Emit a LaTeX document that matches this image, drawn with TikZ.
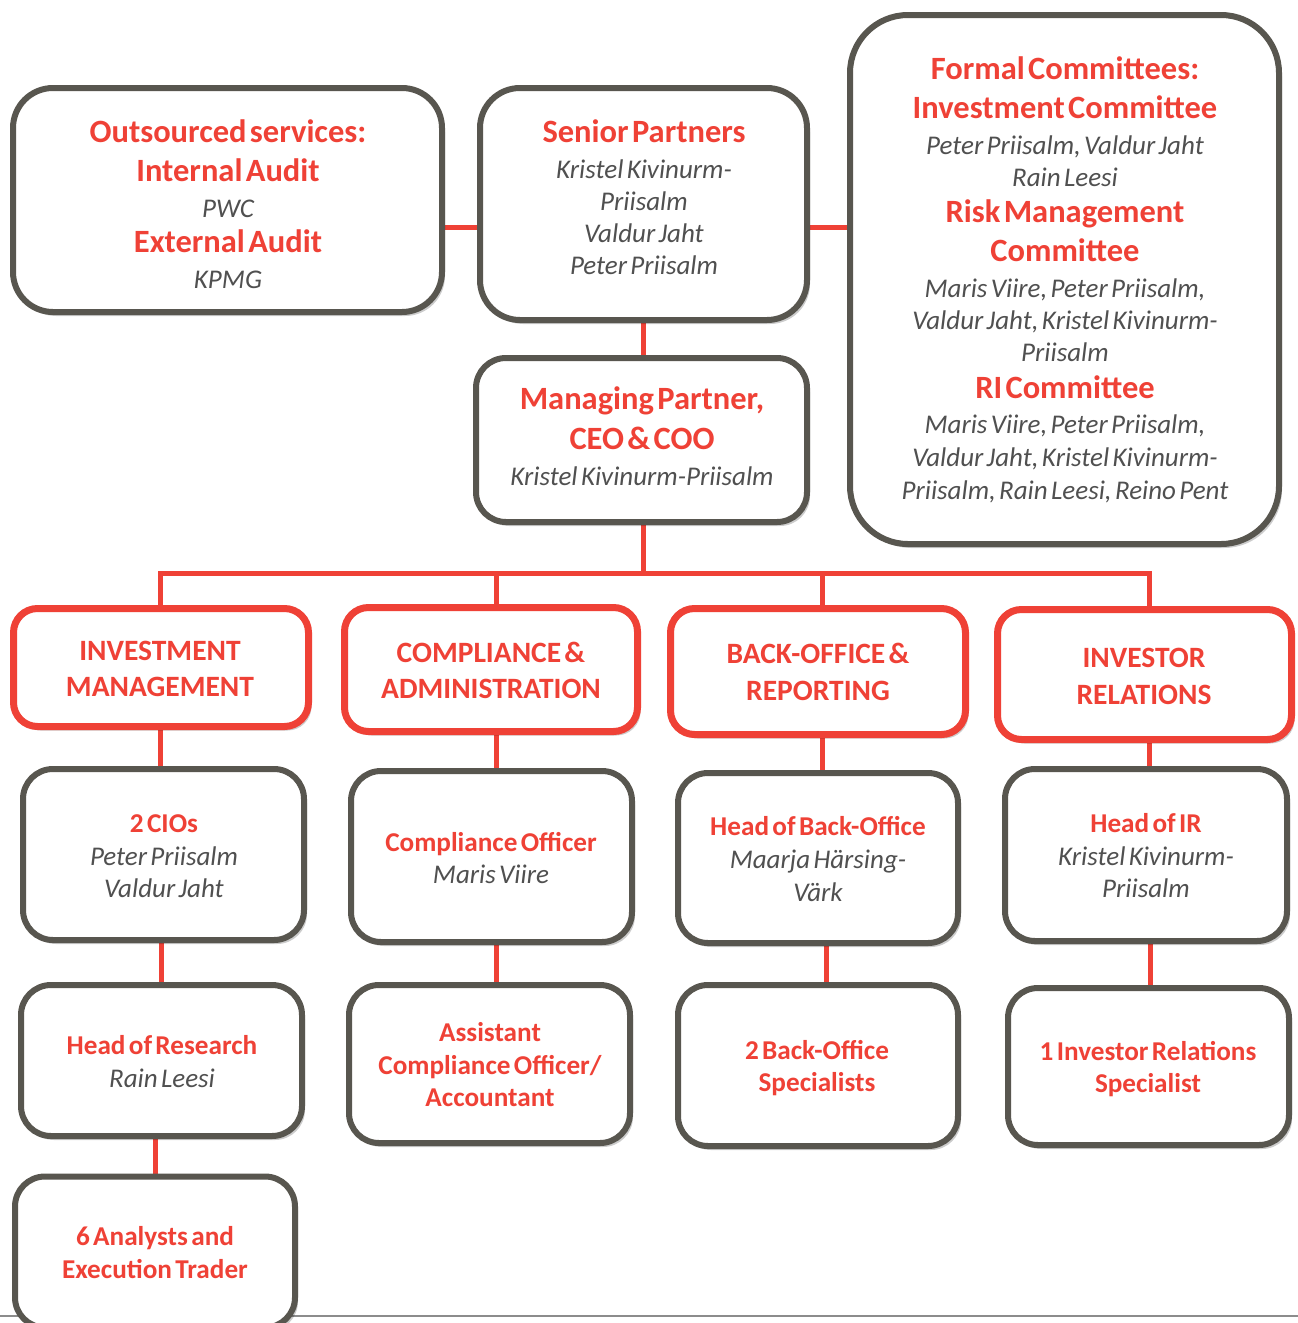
\documentclass[tikz,border=0pt]{standalone}
\usepackage{fontspec}
\setmainfont{Carlito}
\usetikzlibrary{shadows,backgrounds}
\definecolor{cred}{HTML}{EF4136}
\definecolor{cbord}{HTML}{58564F}
\definecolor{ctext}{HTML}{505050}
\newcommand\HdL[3]{{\fontsize{#1}{#2}\selectfont\bfseries\color{cred}#3\par}}
\newcommand\NmL[3]{{\fontsize{#1}{#2}\selectfont\itshape\color{ctext}#3\par}}
\tikzset{
  shadowed/.style={drop shadow={shadow xshift=3pt,shadow yshift=-4pt,opacity=0.2,fill=black}},
  box/.style={draw=cbord, line width=6pt, fill=white, rounded corners=#1, inner sep=0pt, shadowed},
  box/.default=30pt,
  dept/.style={draw=cred, line width=7pt, fill=white, rounded corners=24pt, inner sep=0pt, shadowed},
  txt/.style={anchor=base, align=center, text width=#1, inner sep=0pt, execute at begin node={\setlength\parindent{0pt}}},
  conn/.style={draw=cred, line width=5pt, line join=miter},
}
\begin{document}
\begin{tikzpicture}[x=1pt,y=-1pt]
\useasboundingbox (0,0) rectangle (1298,1323);
% top row
\node[box=40pt, minimum width=429pt, minimum height=224pt] (os) at (227.5,200) {};
\node[txt=420pt] (ost) at (228,142) {\HdL{32.5}{39}{Outsourced services:}\HdL{32.5}{39}{Internal Audit}\NmL{27}{36}{PWC}\HdL{32.5}{35}{External Audit}\NmL{27}{36}{KPMG}};
\node[box=40pt, minimum width=327pt, minimum height=232pt] (sp) at (643.5,204) {};
\node[txt=320pt] (spt) at (644,142) {\HdL{32.5}{39}{Senior Partners}\NmL{27}{36}{Kristel Kivinurm-}\NmL{27}{32}{Priisalm}\NmL{27}{32}{Valdur Jaht}\NmL{27}{32}{Peter Priisalm}};
\node[box=58pt, minimum width=429pt, minimum height=529pt] (fc) at (1064.5,279.5) {};
\node[txt=425pt] (fct) at (1065,79) {\HdL{32.5}{39}{Formal Committees:}\HdL{32.5}{39}{Investment Committee}\NmL{27}{36}{Peter Priisalm, Valdur Jaht}\NmL{27}{32}{Rain Leesi}\HdL{32.5}{36}{Risk Management}\HdL{32.5}{39}{Committee}\NmL{27}{36}{Maris Viire, Peter Priisalm,}\NmL{27}{32}{Valdur Jaht, Kristel Kivinurm-}\NmL{27}{32}{Priisalm}\HdL{32.5}{37}{RI Committee}\NmL{27}{35}{Maris Viire, Peter Priisalm,}\NmL{27}{33}{Valdur Jaht, Kristel Kivinurm-}\NmL{27}{33}{Priisalm, Rain Leesi, Reino Pent}};
\node[box=30pt, minimum width=331pt, minimum height=164pt] (mp) at (641.5,440) {};
\node[txt=325pt] (mpt) at (642,409) {\HdL{32.5}{40}{Managing Partner,}\HdL{32.5}{40}{CEO \& COO}\NmL{27}{36}{Kristel Kivinurm-Priisalm}};
% departments
\node[dept, minimum width=295pt, minimum height=118pt] (im) at (161,667.5) {};
\node[txt=285pt] (imt) at (160,660.5) {\HdL{29.5}{36}{INVESTMENT}\HdL{29.5}{36}{MANAGEMENT}};
\node[dept, minimum width=293pt, minimum height=124pt] (ca) at (491,669.5) {};
\node[txt=285pt] (cat) at (491,662.5) {\HdL{29.5}{36}{COMPLIANCE \&}\HdL{29.5}{36}{ADMINISTRATION}};
\node[dept, minimum width=295pt, minimum height=126pt] (bo) at (818,671.5) {};
\node[txt=285pt] (bot) at (818,663.5) {\HdL{29.5}{37}{BACK-OFFICE \&}\HdL{29.5}{37}{REPORTING}};
\node[dept, minimum width=294pt, minimum height=130pt] (ir) at (1144.5,674.5) {};
\node[txt=285pt] (irt) at (1144,667.5) {\HdL{29.5}{37}{INVESTOR}\HdL{29.5}{37}{RELATIONS}};
% level 2
\node[box, minimum width=281pt, minimum height=171pt] (cio) at (163.5,854.5) {};
\node[txt=275pt] (ciot) at (164,832.5) {\HdL{27.2}{33}{2 CIOs}\NmL{27}{33}{Peter Priisalm}\NmL{27}{32}{Valdur Jaht}};
\node[box, minimum width=281pt, minimum height=171pt] (co) at (491.5,856.5) {};
\node[txt=275pt] (cot) at (491,851.5) {\HdL{27.2}{32}{Compliance Officer}\NmL{27}{32}{Maris Viire}};
\node[box, minimum width=280pt, minimum height=170pt] (hbo) at (818,858) {};
\node[txt=275pt] (hbot) at (818,835.5) {\HdL{27.2}{33}{Head of Back-Office}\NmL{27}{33}{Maarja Härsing-}\NmL{27}{33}{Värk}};
\node[box, minimum width=282pt, minimum height=172pt] (hir) at (1146,855) {};
\node[txt=275pt] (hirt) at (1146,832.5) {\HdL{27.2}{33}{Head of IR}\NmL{27}{33}{Kristel Kivinurm-}\NmL{27}{32}{Priisalm}};
% level 3
\node[box, minimum width=281pt, minimum height=151pt] (res) at (161.5,1060.5) {};
\node[txt=275pt] (rest) at (162,1054.5) {\HdL{27.2}{33}{Head of Research}\NmL{27}{33}{Rain Leesi}};
\node[box, minimum width=281pt, minimum height=158pt] (acc) at (489.5,1064) {};
\node[txt=275pt] (acct) at (490,1041.5) {\HdL{27.2}{33}{Assistant}\HdL{27.2}{33}{Compliance Officer/}\HdL{27.2}{32}{Accountant}};
\node[box, minimum width=280pt, minimum height=161pt] (bos) at (818,1065.5) {};
\node[txt=275pt] (bost) at (817,1059.5) {\HdL{27.2}{32}{2 Back-Office}\HdL{27.2}{32}{Specialists}};
\node[box, minimum width=281pt, minimum height=157pt] (irs) at (1148.5,1066.5) {};
\node[txt=275pt] (irst) at (1148,1060.5) {\HdL{27.2}{32}{1 Investor Relations}\HdL{27.2}{32}{Specialist}};
% level 4
\node[box, minimum width=280pt, minimum height=151pt] (ana) at (155,1252) {};
\node[txt=275pt] (anat) at (155,1245.5) {\HdL{27.2}{33}{6 Analysts and}\HdL{27.2}{33}{Execution Trader}};
% background and connectors
\begin{scope}[on background layer]
\fill[white] (0,0) rectangle (1298,1323);
\draw[black!45, line width=1.5pt] (0,1316) -- (1298,1316);
\coordinate (hy) at (0,227);
\coordinate (bus) at (643,573);
\coordinate (k1) at (160,573);
\coordinate (k2) at (496,573);
\coordinate (k3) at (822,573);
\coordinate (k4) at (1149,573);
\draw[conn] (os.east |- hy) -- (sp.west |- hy);
\draw[conn] (sp.east |- hy) -- (fc.west |- hy);
\draw[conn] (bus |- sp.south) -- (bus |- mp.north);
\draw[conn] (bus |- mp.south) -- (bus);
\draw[conn] (k1 |- im.north) -- (k1) -- (k4) -- (k4 |- ir.north);
\draw[conn] (k2) -- (k2 |- ca.north);
\draw[conn] (k3) -- (k3 |- bo.north);
\draw[conn] (k1 |- im.south) -- (k1 |- cio.north);
\draw[conn] (res.north) -- (res.north |- cio.south);
\draw[conn] (ana.north) -- (ana.north |- res.south);
\draw[conn] (k2 |- ca.south) -- (k2 |- co.north);
\draw[conn] (k2 |- co.south) -- (k2 |- acc.north);
\draw[conn] (k3 |- bo.south) -- (k3 |- hbo.north);
\draw[conn] ([xshift=4pt]k3 |- hbo.south) -- ([xshift=4pt]k3 |- bos.north);
\draw[conn] (k4 |- ir.south) -- (k4 |- hir.north);
\draw[conn] ([xshift=1pt]k4 |- hir.south) -- ([xshift=1pt]k4 |- irs.north);
\end{scope}
\end{tikzpicture}
\end{document}
